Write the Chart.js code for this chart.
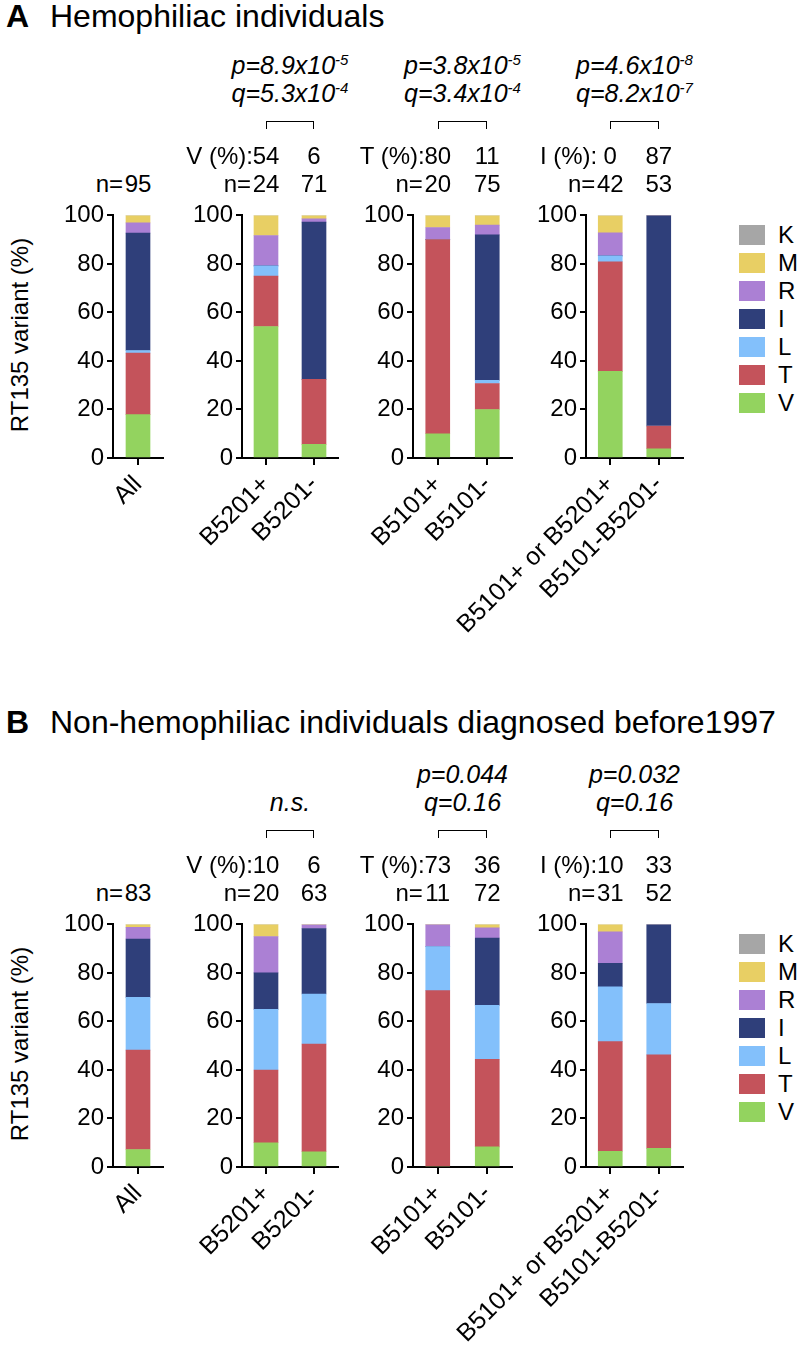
<!DOCTYPE html>
<html>
<head>
<meta charset="utf-8">
<script src="https://cdn.jsdelivr.net/npm/chart.js@4"></script>
<style>
  body { margin: 0; width: 800px; height: 1357px; position: relative; overflow: hidden; background: #fff;
         font-family: "Liberation Sans", Arial, sans-serif; color: #000; }
  .t { position: absolute; white-space: nowrap; line-height: 1; }
  canvas { position: absolute; }
  sup { font-size: 60%; vertical-align: 0.55em; }
</style>
</head>
<body>
<script>
const FONT = '"Liberation Sans", Arial, sans-serif';

const variants = ["V", "T", "L", "I", "R", "M", "K"];
const colors = ["#93d35f", "#c4535b", "#83c0fb", "#2f3f7a", "#ab80d4", "#e8cf64", "#a6a6a6"];
const groups = [["All"], ["B5201+", "B5201-"], ["B5101+", "B5101-"], ["B5101+ or B5201+", "B5101-B5201-"]];

// % per bar: All, B5201+, B5201-, B5101+, B5101-, B5101+ or B5201+, B5101-B5201-
const vA = [17.9, 54.2, 5.6, 10.0, 20.0, 35.7, 3.8];
const tA = [25.3, 20.8, 26.8, 80.0, 10.7, 45.2, 9.4];
const lA = [1.1, 4.2, 0, 0, 1.3, 2.4, 0];
const iA = [48.4, 0, 64.8, 0, 60.0, 0, 86.8];
const rA = [4.2, 12.5, 1.4, 5.0, 4.0, 9.5, 0];
const mA = [3.1, 8.3, 1.4, 5.0, 4.0, 7.1, 0];
const kA = [0, 0, 0, 0, 0, 0, 0];

const vB = [7.2, 10.0, 6.3, 0, 8.3, 6.5, 7.7];
const tB = [41.0, 30.0, 44.4, 72.7, 36.1, 45.2, 38.5];
const lB = [21.7, 25.0, 20.6, 18.2, 22.2, 22.6, 21.2];
const iB = [24.1, 15.0, 27.0, 0, 27.8, 9.7, 32.7];
const rB = [4.8, 15.0, 1.6, 9.1, 4.2, 12.9, 0];
const mB = [1.2, 5.0, 0, 0, 1.4, 3.2, 0];
const kB = [0, 0, 0, 0, 0, 0, 0];

const yTicks = [0, 20, 40, 60, 80, 100];

const titleA = "Hemophiliac individuals";
const titleB = "Non-hemophiliac individuals diagnosed before1997";
const statsA = [null, ["p=8.9x10<sup>-5</sup>", "q=5.3x10<sup>-4</sup>"], ["p=3.8x10<sup>-5</sup>", "q=3.4x10<sup>-4</sup>"], ["p=4.6x10<sup>-8</sup>", "q=8.2x10<sup>-7</sup>"]];
const statsB = [null, [null, "n.s."], ["p=0.044", "q=0.16"], ["p=0.032", "q=0.16"]];
const pctLabels = [null, "V (%):", "T (%):", "I (%):"];
const pctA = [null, [54, 6], [80, 11], [0, 87]];
const pctB = [null, [10, 6], [73, 36], [10, 33]];
const nA = [[95], [24, 71], [20, 75], [42, 53]];
const nB = [[83], [20, 63], [11, 72], [31, 52]];

// layout
const axisX = [113, 242, 413, 586];
const areaW = [50, 96, 99, 97];
const Y100 = 213, AREA_H = 245;

function txt(html, x, y, align, size, extra) {
  const d = document.createElement("div");
  d.className = "t";
  d.innerHTML = html;
  d.style.fontSize = size + "px";
  d.style.left = x + "px";
  d.style.top = y + "px";
  const tx = align === "c" ? "-50%" : align === "r" ? "-100%" : "0";
  d.style.transform = "translate(" + tx + ",-50%)";
  if (extra) Object.assign(d.style, extra);
  document.body.appendChild(d);
  return d;
}

function centers(gi) {
  const n = groups[gi].length;
  return groups[gi].map((_, k) => axisX[gi] + areaW[gi] * (2 * k + 1) / (2 * n));
}

function makeChart(gi, dy, start, series) {
  const PL = 170, W = 60, PT = 15, XH = 240, PR = 20;
  const cv = document.createElement("canvas");
  cv.width = PL + W + areaW[gi] + PR;
  cv.height = PT + AREA_H + XH;
  cv.style.left = (axisX[gi] - W - PL) + "px";
  cv.style.top = (Y100 + dy - PT) + "px";
  document.body.appendChild(cv);
  const n = groups[gi].length;
  new Chart(cv, {
    type: "bar",
    data: {
      labels: groups[gi],
      datasets: variants.map((v, k) => ({
        label: v,
        data: series[k].slice(start, start + n),
        backgroundColor: colors[k],
        barThickness: 24,
      })),
    },
    options: {
      responsive: false,
      animation: false,
      layout: { padding: { left: PL, top: PT, right: PR, bottom: 0 } },
      plugins: { legend: { display: false }, tooltip: { enabled: false } },
      scales: {
        x: {
          stacked: true,
          offset: true,
          grid: { offset: false, drawOnChartArea: false, tickLength: 7, color: "#000", lineWidth: 2 },
          border: { color: "#000", width: 2 },
          ticks: { color: "#000", font: { size: 25, family: FONT }, minRotation: 45, maxRotation: 45, autoSkip: false, padding: 5 },
          afterFit: (s) => { s.height = XH; },
        },
        y: {
          stacked: true,
          min: 0,
          max: 100,
          afterBuildTicks: (s) => { s.ticks = yTicks.map((v) => ({ value: v })); },
          ticks: { color: "#000", font: { size: 24, family: FONT }, padding: 3 },
          grid: { drawOnChartArea: false, tickLength: 6, color: "#000", lineWidth: 2 },
          border: { color: "#000", width: 2 },
          afterFit: (s) => { s.width = W; },
        },
      },
    },
  });
}

function panel(dy, letter, title, titleY, series, stats, pct, ns) {
  txt("<b>" + letter + "</b>", 6, titleY, "l", 32);
  txt(title, 50, titleY, "l", 32);
  txt("RT135 variant (%)", 20, 335 + dy, "c", 24, { transform: "translate(-50%,-50%) rotate(-90deg)" });

  let start = 0;
  groups.forEach((g, gi) => {
    makeChart(gi, dy, start, series);
    start += g.length;
    const c = centers(gi);
    // n row
    txt("n=", c[0] - 15, 184 + dy, "r", 24);
    ns[gi].forEach((v, k) => txt(String(v), c[k], 184 + dy, "c", 24));
    if (pct[gi]) {
      txt(pctLabels[gi], c[0] - 13, 156 + dy, "r", 24);
      pct[gi].forEach((v, k) => txt(String(v), c[k], 156 + dy, "c", 24));
    }
    if (stats[gi]) {
      const mid = (c[0] + c[1]) / 2;
      const br = document.createElement("div");
      Object.assign(br.style, {
        position: "absolute", left: c[0] + "px", top: (121 + dy) + "px",
        width: (c[1] - c[0]) + "px", height: "8px",
        border: "1.5px solid #000", borderBottom: "none", boxSizing: "border-box",
      });
      document.body.appendChild(br);
      if (stats[gi][0]) txt(stats[gi][0], mid, 65 + dy, "c", 25, { fontStyle: "italic" });
      if (stats[gi][1]) txt(stats[gi][1], mid, 93 + dy, "c", 25, { fontStyle: "italic" });
    }
  });

  // legend, top to bottom K..V
  for (let k = variants.length - 1; k >= 0; k--) {
    const cy = 235 + dy + (variants.length - 1 - k) * 28;
    const sw = document.createElement("div");
    Object.assign(sw.style, {
      position: "absolute", left: "739px", top: (cy - 10) + "px",
      width: "26px", height: "20px", background: colors[k],
    });
    document.body.appendChild(sw);
    txt(variants[k], 778, cy, "l", 24);
  }
}

panel(0, "A", titleA, 16, [vA, tA, lA, iA, rA, mA, kA], statsA, pctA, nA);
panel(709, "B", titleB, 722, [vB, tB, lB, iB, rB, mB, kB], statsB, pctB, nB);
</script>
</body>
</html>
